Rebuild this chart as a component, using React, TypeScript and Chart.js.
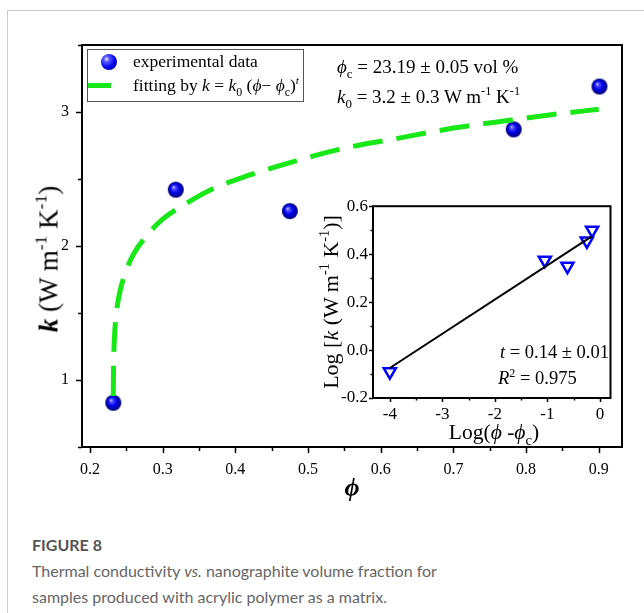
import React, { useEffect, useRef } from 'react';
import { Chart, registerables } from 'chart.js';
Chart.register(...registerables);

// ---------- data ----------
const phiData = [0.232, 0.318, 0.475, 0.783, 0.901];
const kData = [0.83, 2.42, 2.26, 2.87, 3.19];

const fitPhi = [0.232, 0.2325, 0.2335, 0.235, 0.238, 0.242, 0.25, 0.26, 0.28, 0.3, 0.33, 0.37, 0.42, 0.48, 0.55, 0.62, 0.7, 0.78, 0.85, 0.9];
const fitK = [0.88, 1.13, 1.3, 1.43, 1.57, 1.68, 1.82, 1.94, 2.09, 2.2, 2.31, 2.43, 2.53, 2.63, 2.73, 2.8, 2.88, 2.94, 2.99, 3.02];

const logPhi = [-4.0, -1.05, -0.62, -0.25, -0.15];
const logK = [-0.09, 0.375, 0.35, 0.455, 0.5];
const lineLogPhi = [-4.0, -0.15];
const lineLogK = [-0.075, 0.475];

const SERIF = "'Liberation Serif', 'Times New Roman', serif";
const SANS = "Lato, 'Open Sans', sans-serif";
const GREEN = 'rgb(24,232,24)';
const PHI = 'ϕ';

const near = (v: number, step: number) => Math.abs(v / step - Math.round(v / step)) < 1e-6;

// tick label formatters
const fmtMainX = (v: number) => (near(v, 0.1) ? v.toFixed(1) : '');
const fmtMainY = (v: number) => (near(v, 1) ? String(Math.round(v)) : '');
const fmtInsetX = (v: number) => (near(v, 1) ? String(Math.round(v) === 0 ? 0 : Math.round(v)) : '');
const fmtInsetY = (v: number) => (near(v, 0.2) ? (Math.abs(v) < 1e-9 ? '0.0' : v.toFixed(1)) : '');

function sphereImage(r: number) {
  const c = document.createElement('canvas');
  const s = r * 2 + 2;
  c.width = s; c.height = s;
  const g = c.getContext('2d')!;
  const cx = s / 2, cy = s / 2;
  const grad = g.createRadialGradient(cx - r * 0.3, cy - r * 0.35, 0, cx, cy, r);
  grad.addColorStop(0, '#f0f2ff');
  grad.addColorStop(0.18, '#5a5aff');
  grad.addColorStop(0.55, '#0000ee');
  grad.addColorStop(1, '#000070');
  g.fillStyle = grad;
  g.beginPath(); g.arc(cx, cy, r, 0, Math.PI * 2); g.fill();
  return c;
}

function framePlugin(majX: number, majY: number, majLen: number, minLen: number) {
  return {
    id: 'frameTicks',
    beforeDraw(chart: any) {
      const { ctx, chartArea: a } = chart;
      ctx.save();
      ctx.fillStyle = '#fff';
      ctx.fillRect(a.left, a.top, a.right - a.left, a.bottom - a.top);
      ctx.restore();
    },
    afterDraw(chart: any) {
      const { ctx, chartArea: a } = chart;
      ctx.save();
      ctx.strokeStyle = '#000';
      ctx.lineWidth = 1.5;
      const xs = chart.scales.x, ys = chart.scales.y;
      ctx.beginPath();
      for (const t of xs.ticks) {
        const p = Math.round(xs.getPixelForValue(t.value)) + 0.5;
        const len = near(t.value, majX) ? majLen : minLen;
        ctx.moveTo(p, a.bottom); ctx.lineTo(p, a.bottom + len);
      }
      for (const t of ys.ticks) {
        const p = Math.round(ys.getPixelForValue(t.value)) + 0.5;
        const len = near(t.value, majY) ? majLen : minLen;
        ctx.moveTo(a.left, p); ctx.lineTo(a.left - len, p);
      }
      ctx.stroke();
      ctx.lineWidth = 2;
      ctx.strokeRect(a.left, a.top, a.right - a.left, a.bottom - a.top);
      ctx.restore();
    },
  };
}

// tick marks are drawn by the plugin; the grid only reserves space for them
const hiddenGrid = (len: number) => ({
  display: true, drawOnChartArea: false, drawTicks: true, tickLength: len,
  color: 'rgba(0,0,0,0)', tickColor: 'rgba(0,0,0,0)',
});

function mainConfig(): any {
  return {
    type: 'scatter',
    data: {
      datasets: [
        {
          label: 'fitting',
          data: fitPhi.map((x, i) => ({ x, y: fitK[i] })),
          showLine: true, borderColor: GREEN, borderWidth: 5, borderDash: [30, 14],
          pointRadius: 0, cubicInterpolationMode: 'monotone', fill: false,
        },
        {
          label: 'experimental data',
          data: phiData.map((x, i) => ({ x, y: kData[i] })),
          pointStyle: sphereImage(8), pointRadius: 8, showLine: false,
        },
      ],
    },
    options: {
      animation: false, responsive: false, devicePixelRatio: 1,
      layout: { padding: { left: 0, top: 45, right: 22, bottom: 0 } },
      plugins: { legend: { display: false }, tooltip: { enabled: false } },
      scales: {
        x: {
          type: 'linear', position: 'bottom', min: 0.189, max: 0.932,
          afterFit: (s: any) => { s.height = 73; },
          ticks: {
            stepSize: 0.05, includeBounds: false, autoSkip: false, maxRotation: 0, padding: 7,
            color: '#000', font: { family: SERIF, size: 16 },
            callback: (v: any) => fmtMainX(Number(v)),
          },
          grid: hiddenGrid(6), border: { display: false },
        },
        y: {
          type: 'linear', min: 0.5, max: 3.5,
          afterFit: (s: any) => { s.width = 82; },
          ticks: {
            stepSize: 0.5, includeBounds: false, autoSkip: false, padding: 7,
            color: '#000', font: { family: SERIF, size: 16 },
            callback: (v: any) => fmtMainY(Number(v)),
          },
          grid: hiddenGrid(6), border: { display: false },
        },
      },
    },
    plugins: [framePlugin(0.1, 1, 6, 4)],
  };
}

function insetConfig(): any {
  return {
    type: 'scatter',
    data: {
      datasets: [
        {
          label: 'linear fit',
          data: lineLogPhi.map((x, i) => ({ x, y: lineLogK[i] })),
          showLine: true, borderColor: '#000', borderWidth: 2, pointRadius: 0,
        },
        {
          label: 'log data',
          data: logPhi.map((x, i) => ({ x, y: logK[i] })),
          pointStyle: 'triangle', rotation: 180, pointRadius: 7,
          borderColor: '#0000ff', borderWidth: 2.5, backgroundColor: 'rgba(255,255,255,0)',
          showLine: false,
        },
      ],
    },
    options: {
      animation: false, responsive: false, devicePixelRatio: 1,
      layout: { padding: { left: 0, top: 10, right: 4, bottom: 0 } },
      plugins: { legend: { display: false }, tooltip: { enabled: false } },
      scales: {
        x: {
          type: 'linear', position: 'bottom', min: -4.32, max: 0.2,
          afterFit: (s: any) => { s.height = 47; },
          ticks: {
            stepSize: 0.5, includeBounds: false, autoSkip: false, maxRotation: 0, padding: 2,
            color: '#000', font: { family: SERIF, size: 17 },
            callback: (v: any) => fmtInsetX(Number(v)),
          },
          grid: hiddenGrid(4), border: { display: false },
        },
        y: {
          type: 'linear', min: -0.2, max: 0.6,
          afterFit: (s: any) => { s.width = 53; },
          ticks: {
            stepSize: 0.1, includeBounds: false, autoSkip: false, padding: 1,
            color: '#000', font: { family: SERIF, size: 17 },
            callback: (v: any) => fmtInsetY(Number(v)),
          },
          grid: hiddenGrid(4), border: { display: false },
        },
      },
    },
    plugins: [framePlugin(1, 0.2, 4, 2.5)],
  };
}

// ---------- text helpers ----------
const Sub = ({ children }: any) => (
  <span style={{ fontSize: '0.68em', position: 'relative', top: '0.38em' }}>{children}</span>
);
const Sup = ({ children }: any) => (
  <span style={{ fontSize: '0.65em', position: 'relative', top: '-0.62em' }}>{children}</span>
);
const I = ({ children }: any) => <span style={{ fontStyle: 'italic' }}>{children}</span>;
const BI = ({ children }: any) => <span style={{ fontStyle: 'italic', fontWeight: 'bold' }}>{children}</span>;

const Txt = ({ x, y, size, align = 'left', rotate = false, style, children }: any) => {
  const tx = align === 'left' ? '0' : align === 'center' ? '-50%' : '-100%';
  return (
    <div
      style={{
        position: 'absolute', left: x, top: y,
        transform: `translate(${tx},-50%)${rotate ? ' rotate(-90deg)' : ''}`,
        fontFamily: SERIF, fontSize: size, lineHeight: 1, whiteSpace: 'nowrap', color: '#000',
        ...style,
      }}
    >
      {children}
    </div>
  );
};

export default function App() {
  const mainRef = useRef<HTMLCanvasElement>(null);
  const insetRef = useRef<HTMLCanvasElement>(null);

  useEffect(() => {
    const c1 = new Chart(mainRef.current!, mainConfig());
    const c2 = new Chart(insetRef.current!, insetConfig());
    return () => { c1.destroy(); c2.destroy(); };
  }, []);

  return (
    <div style={{ position: 'absolute', left: 0, top: 0, width: 644, height: 613, overflow: 'hidden', background: '#fff' }}>
      <div style={{ position: 'absolute', left: 7, top: 10, width: 700, height: 700, border: '1px solid #cccccc' }} />
      <canvas ref={mainRef} width={644} height={520} style={{ position: 'absolute', left: 0, top: 0, width: 644, height: 520 }} />
      <canvas ref={insetRef} width={300} height={250} style={{ position: 'absolute', left: 320, top: 195, width: 300, height: 250 }} />

      {/* legend */}
      <div style={{ position: 'absolute', left: 87, top: 49, width: 215, height: 51, border: '1px solid #555' }} />
      <div style={{
        position: 'absolute', left: 101, top: 54, width: 16, height: 16, borderRadius: '50%',
        background: 'radial-gradient(circle at 35% 32%, #f0f2ff 0%, #5a5aff 18%, #0000ee 55%, #000070 100%)',
      }} />
      <div style={{ position: 'absolute', left: 88, top: 83, width: 23, height: 5, background: GREEN }} />
      <Txt x={133} y={62} size={17.5}>experimental data</Txt>
      <Txt x={133} y={86} size={17.5}>
        fitting by <I>k</I> = <I>k</I><Sub>0</Sub> (<I>{PHI}</I>− <I>{PHI}</I><Sub>c</Sub>)<Sup><I>t</I></Sup>
      </Txt>

      {/* annotations */}
      <Txt x={337} y={66} size={19}><I>{PHI}</I><Sub>c</Sub> = 23.19 ± 0.05 vol %</Txt>
      <Txt x={337} y={96} size={19}><I>k</I><Sub>0</Sub> = 3.2 ± 0.3 W m<Sup>-1</Sup> K<Sup>-1</Sup></Txt>

      {/* main axis titles */}
      <Txt x={49} y={259} size={27} align="center" rotate>
        <BI>k</BI> (W m<Sup>-1</Sup> K<Sup>-1</Sup>)
      </Txt>
      <Txt x={352} y={488} size={26} align="center"><BI>{PHI}</BI></Txt>

      {/* inset texts */}
      <Txt x={331} y={302} size={22} align="center" rotate>
        Log [<I>k</I> (W m<Sup>-1</Sup> K<Sup>-1</Sup>)]
      </Txt>
      <Txt x={494} y={433} size={21.5} align="center">
        Log(<I>{PHI}</I> -<I>{PHI}</I><Sub>c</Sub>)
      </Txt>
      <Txt x={609} y={352} size={18.5} align="right"><I>t</I> = 0.14 ± 0.01</Txt>
      <Txt x={498} y={378} size={18.5}><I>R</I><Sup>2</Sup> = 0.975</Txt>

      {/* caption */}
      <div style={{ position: 'absolute', left: 32, top: 532, fontFamily: SANS, fontSize: 16, lineHeight: '26px', color: '#555', fontWeight: 700 }}>
        FIGURE 8
      </div>
      <div style={{ position: 'absolute', left: 32, top: 558, fontFamily: SANS, fontSize: 16, lineHeight: '26px', color: '#666', whiteSpace: 'nowrap' }}>
        Thermal conductivity <span style={{ fontStyle: 'italic' }}>vs.</span> nanographite volume fraction for<br />
        samples produced with acrylic polymer as a matrix.
      </div>
    </div>
  );
}
